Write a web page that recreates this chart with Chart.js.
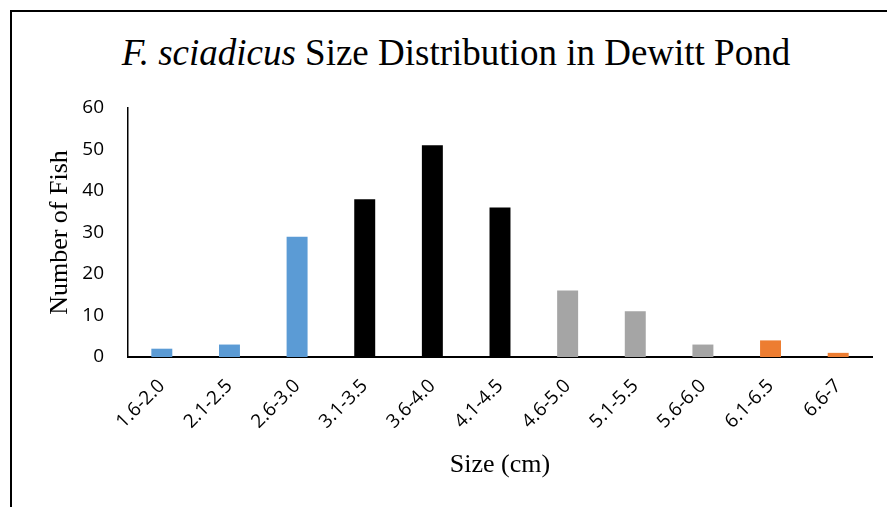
<!DOCTYPE html>
<html><head><meta charset="utf-8">
<script src="https://cdn.jsdelivr.net/npm/chart.js@4"></script>
<style>
html,body{margin:0;padding:0;background:#fff;width:887px;height:507px;overflow:hidden;}
#frame{position:absolute;left:10px;top:10px;width:900px;height:520px;border-left:2px solid #000;border-top:2px solid #000;}
#title{position:absolute;left:0;top:31px;width:912px;text-align:center;font-family:"Liberation Serif","Times New Roman",serif;font-size:37px;color:#000;white-space:nowrap;}
#wrap{position:absolute;left:0;top:0;width:887px;height:507px;}
</style></head>
<body>
<div id="frame"></div>
<div id="title"><i>F. sciadicus</i> Size Distribution in Dewitt Pond</div>
<div id="wrap"><canvas id="c" width="887" height="507"></canvas></div>
<script>
const categories = ["1.6-2.0","2.1-2.5","2.6-3.0","3.1-3.5","3.6-4.0","4.1-4.5","4.6-5.0","5.1-5.5","5.6-6.0","6.1-6.5","6.6-7"];
const fishCounts = [2,3,29,38,51,36,16,11,3,4,1];
const barColors = ["#5B9BD5","#5B9BD5","#5B9BD5","#000000","#000000","#000000","#A5A5A5","#A5A5A5","#A5A5A5","#ED7D31","#ED7D31"];
const yTicks = [0,10,20,30,40,50,60];

new Chart(document.getElementById('c'), {
  type: 'bar',
  data: { labels: categories, datasets: [{ data: fishCounts, backgroundColor: barColors, barPercentage: 0.31, categoryPercentage: 1 }] },
  options: {
    responsive: false, animation: false,
    layout: { padding: { top: 108, right: 15, left: 0, bottom: 0 } },
    plugins: { legend: { display: false }, tooltip: { enabled: false } },
    scales: {
      x: {
        grid: { display: false, drawTicks: false },
        border: { display: true, color: '#000', width: 2 },
        ticks: { color: '#000', font: { family: 'Open Sans', size: 19 }, minRotation: 45, maxRotation: 45, padding: 18 },
        title: { display: true, text: 'Size (cm)', color: '#000', font: { family: 'Liberation Serif', size: 26 }, padding: { top: 0, bottom: 26 } },
        afterFit: s => { s.height = 150; }
      },
      y: {
        min: 0, max: 60,
        grid: { display: false, drawTicks: false },
        border: { display: true, color: '#000', width: 1.5 },
        afterBuildTicks: s => { s.ticks = yTicks.map(v => ({ value: v })); },
        ticks: { color: '#000', font: { family: 'Open Sans', size: 19 }, padding: 24 },
        title: { display: true, text: 'Number of Fish', color: '#000', font: { family: 'Liberation Serif', size: 26 }, padding: { top: 45, bottom: 0 } },
        afterFit: s => { s.width = 128; }
      }
    }
  }
});
</script>
</body></html>
